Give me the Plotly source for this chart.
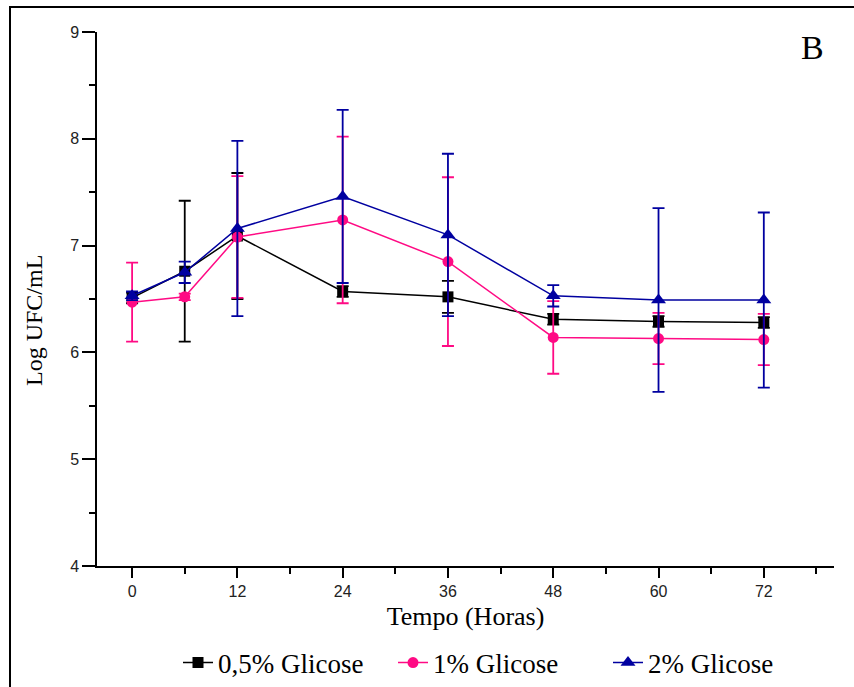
import plotly.graph_objects as go

hours = [0, 6, 12, 24, 36, 48, 60, 72]

g05 = [6.51, 6.76, 7.09, 6.57, 6.52, 6.31, 6.29, 6.28]
g05_err = [0.05, 0.66, 0.59, 0.05, 0.15, 0.05, 0.05, 0.05]

g1 = [6.47, 6.52, 7.08, 7.24, 6.85, 6.14, 6.13, 6.12]
g1_err = [0.37, 0.03, 0.57, 0.78, 0.79, 0.34, 0.24, 0.24]

g2 = [6.53, 6.75, 7.16, 7.46, 7.10, 6.53, 6.49, 6.49]
g2_err = [0.04, 0.10, 0.82, 0.81, 0.76, 0.10, 0.86, 0.82]

x_ticks = [0, 12, 24, 36, 48, 60, 72]
y_ticks = [4, 5, 6, 7, 8, 9]

series = [
    ("0,5% Glicose", g05, g05_err, "#000000", "square", 11),
    ("1% Glicose", g1, g1_err, "#FF0a84", "circle", 11),
    ("2% Glicose", g2, g2_err, "#0000A0", "triangle-up", 13),
]

fig = go.Figure()
for name, vals, errs, col, sym, sz in series:
    fig.add_trace(go.Scatter(
        x=hours, y=vals, name=name, mode="lines+markers",
        line=dict(color=col, width=1.5),
        marker=dict(color=col, symbol=sym, size=sz),
        error_y=dict(type="data", array=errs, visible=True,
                     color=col, thickness=1.8, width=6),
    ))

serif = "Liberation Serif, Times New Roman, serif"
sans = "Liberation Sans, Arial, sans-serif"

L, R, T, B = 97, 20, 32, 121
W, H = 854, 687
PW, PH = W - L - R, H - T - B

fig.update_layout(
    width=W, height=H,
    margin=dict(l=L, r=R, t=T, b=B, autoexpand=False),
    plot_bgcolor="white", paper_bgcolor="white",
    showlegend=True,
    legend=dict(orientation="h", x=(178 - L) / PW, xanchor="left",
                y=-(663 - (H - B)) / PH, yanchor="middle",
                font=dict(family=serif, size=27, color="#000"),
                itemwidth=30, entrywidth=170, entrywidthmode="pixels",
                tracegroupgap=0, bgcolor="rgba(0,0,0,0)"),
    xaxis=dict(
        range=[-4, 80], tickvals=x_ticks, ticktext=[str(v) for v in x_ticks],
        automargin=False,
        showgrid=False, zeroline=False, showline=True, linecolor="#000", linewidth=1.5,
        ticks="outside", ticklen=10, tickwidth=1.5, tickcolor="#000",
        tickfont=dict(family=sans, size=16, color="#222"),
        minor=dict(tickvals=[6, 18, 30, 42, 54, 66, 78], ticks="outside", ticklen=6,
                   tickwidth=1.5, tickcolor="#000", showgrid=False),
        title=dict(text="Tempo (Horas)", font=dict(family=serif, size=26, color="#000"), standoff=8),
    ),
    yaxis=dict(
        range=[4, 9], tickvals=y_ticks, ticktext=[str(v) for v in y_ticks],
        automargin=False,
        showgrid=False, zeroline=False, showline=True, linecolor="#000", linewidth=1.5,
        ticks="outside", ticklen=13, tickwidth=1.5, tickcolor="#000",
        tickfont=dict(family=sans, size=16, color="#222"),
        minor=dict(tickvals=[4.5, 5.5, 6.5, 7.5, 8.5], ticks="outside", ticklen=6,
                   tickwidth=1.5, tickcolor="#000", showgrid=False),
    ),
    shapes=[dict(type="rect", xref="paper", yref="paper",
                 x0=(10 - L) / PW, x1=(W + 6 - L) / PW,
                 y0=-(H + 10 - (H - B)) / PH, y1=1 + (T - 7) / PH,
                 line=dict(color="#000", width=2), fillcolor="rgba(0,0,0,0)", layer="below")],
    annotations=[
        dict(text="B", xref="paper", yref="paper",
             x=(812 - L) / PW, y=1 - (48 - T) / PH,
             xanchor="center", yanchor="middle", showarrow=False,
             font=dict(family=serif, size=34, color="#000")),
        dict(text="Log UFC/mL", xref="paper", yref="paper", textangle=-90,
             x=(34 - L) / PW, y=1 - (321 - T) / PH,
             xanchor="center", yanchor="middle", showarrow=False,
             font=dict(family=serif, size=24, color="#000")),
    ],
)

fig.write_html("out.html", config={"displayModeBar": False},
               post_script="document.body.style.margin='0';")
